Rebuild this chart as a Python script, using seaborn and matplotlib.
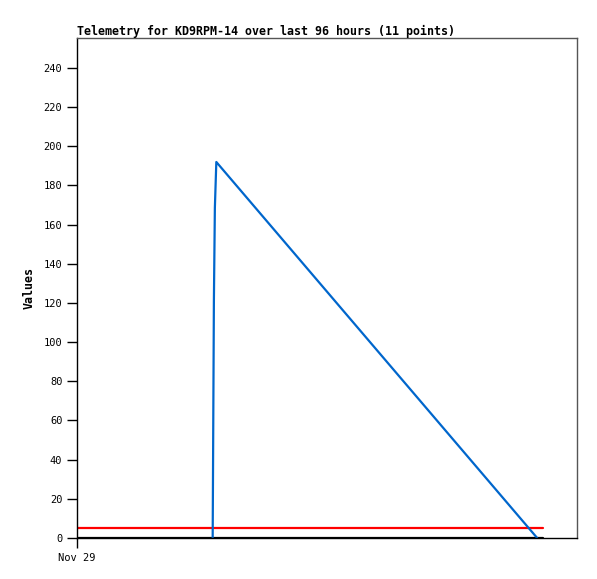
import numpy as np
import pandas as pd
import seaborn as sns
import matplotlib
matplotlib.use('Agg')
import matplotlib.pyplot as plt

# hours since Nov 29 00:00 and telemetry values
hours = [27.95, 28.0, 28.1, 28.2, 28.4, 28.7, 94.8]
values = [0, 24.5, 73, 121, 168.5, 192, 0]
limit_hours = [0, 96]
limit_values = [5, 5]
zero_values = [0, 0]
tick_labels = ['Nov 29']

sns.set_theme(style='white')
plt.rcParams['font.family'] = ['DejaVu Sans Mono', 'DejaVu Sans']
plt.rcParams['text.color'] = 'black'
plt.rcParams['axes.labelcolor'] = 'black'

fig = plt.figure(figsize=(5.97, 5.79), dpi=100)
ax = fig.add_axes([77 / 597, 41 / 579, 500 / 597, 500 / 579])

df = pd.DataFrame({'hours': hours, 'values': values})
df_limit = pd.DataFrame({'hours': limit_hours, 'values': limit_values})
df_zero = pd.DataFrame({'hours': limit_hours, 'values': zero_values})

sns.lineplot(data=df_zero, x='hours', y='values', color='black', linewidth=1.6, ax=ax, sort=False)
sns.lineplot(data=df_limit, x='hours', y='values', color='#ff0000', linewidth=1.6, ax=ax, sort=False)
sns.lineplot(data=df, x='hours', y='values', color='#0066cc', linewidth=1.6, ax=ax, sort=False)

ax.set_xlim(0, 103)
ax.set_ylim(0, 255.3)
ax.set_yticks(np.arange(0, 241, 20))
ax.set_xticks([0])
ax.set_xticklabels(tick_labels)
ax.tick_params(axis='both', direction='out', length=7, width=1, color='black',
               labelsize=7.5, labelcolor='black', left=True, bottom=True)
ax.set_xlabel('')
ax.set_ylabel('Values', fontsize=8.4, fontweight='bold', labelpad=6, color='black')
ax.set_title('Telemetry for KD9RPM-14 over last 96 hours (11 points)',
             loc='left', fontsize=8.4, fontweight='bold', pad=2, color='black')

for side in ['left', 'bottom']:
    ax.spines[side].set_color('black')
    ax.spines[side].set_linewidth(1)
for side in ['top', 'right']:
    ax.spines[side].set_color('#555555')
    ax.spines[side].set_linewidth(1)

fig.savefig('out.png', dpi=100)
